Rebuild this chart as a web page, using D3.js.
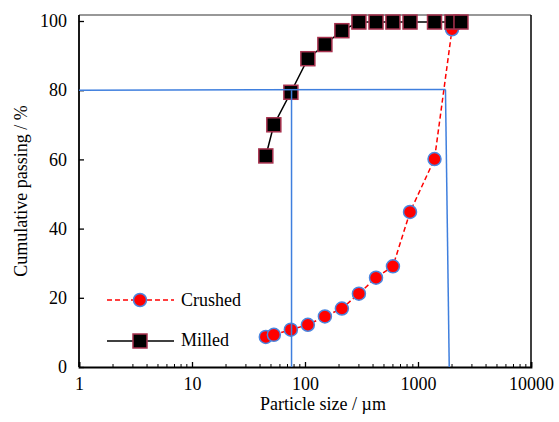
<!DOCTYPE html>
<html>
<head>
<meta charset="utf-8">
<script src="https://cdn.jsdelivr.net/npm/d3@7"></script>
<style>
  body { margin: 0; background: #fff; }
  #chart text { font-family: "Liberation Serif", "Times New Roman", serif !important; }
</style>
</head>
<body>
<svg id="chart" width="559" height="422" font-family="Liberation Serif"></svg>
<script>
// sieve sizes (um) and cumulative passing (%)
const crushedSizes = [45, 53, 75, 106, 150, 212, 300, 425, 600, 850, 1400, 2000];
const crushedPassing = [8.7, 9.3, 10.8, 12.2, 14.6, 16.9, 21.2, 25.8, 29.1, 44.8, 60.1, 97.6];

const milledSizes = [45, 53, 75, 106, 150, 212, 300, 425, 600, 850, 1400, 2000, 2400];
const milledPassing = [61, 70, 79.4, 89.1, 93.2, 97.2, 99.7, 99.7, 99.7, 99.7, 99.7, 99.7, 99.7];

// D80 guide lines
const guideH = [[1, 80], [1750, 80.2]];
const guideMilled = [[76, 80], [76, 0]];
const guideCrushed = [[1750, 80.2], [1890, 0]];

const xMajor = [1, 10, 100, 1000, 10000];
const yTicks = [0, 20, 40, 60, 80, 100];

const FONT = "Liberation Serif";

const svg = d3.select("#chart");

const x = d3.scaleLog().domain([1, 10000]).range([79, 531]);
const y = d3.scaleLinear().domain([0, 100]).range([367, 21]);
const frameTop = 15;

// minor ticks for log axis
let xMinor = [];
for (let d = 1; d < 10000; d *= 10) {
  for (let k = 2; k <= 9; k++) xMinor.push(d * k);
}

// frame
svg.append("line").attr("x1", 79).attr("x2", 531).attr("y1", frameTop).attr("y2", frameTop)
   .style("stroke", "#333").style("stroke-width", "1.2px");
svg.append("line").attr("x1", 531).attr("x2", 531).attr("y1", frameTop).attr("y2", 367)
   .style("stroke", "#000").style("stroke-width", "1.5px");

// bottom axis, ticks inward
let xAxis = svg.append("g").attr("transform", "translate(0,367)")
  .call(d3.axisBottom(x).tickValues(xMajor).tickSize(-5).tickPadding(10)
    .tickFormat(d3.format("d")));
xAxis.attr("font-family", FONT).attr("font-size", 18);
xAxis.selectAll("text").attr("font-family", FONT).attr("dy", "0.71em");
xAxis.select(".domain").style("stroke-width", "1.8px");
xAxis.selectAll(".tick line").style("stroke-width", "1.3px");

svg.append("g").selectAll("line").data(xMinor).join("line")
   .attr("x1", d => x(d)).attr("x2", d => x(d))
   .attr("y1", 367).attr("y2", 364)
   .style("stroke", "#000").style("stroke-width", "1px");

// left axis, ticks inward
let yAxis = svg.append("g").attr("transform", "translate(79,0)")
  .call(d3.axisLeft(y).tickValues(yTicks).tickSize(-5).tickPadding(12));
yAxis.attr("font-family", FONT).attr("font-size", 18);
yAxis.selectAll("text").attr("font-family", FONT);
yAxis.select(".domain").attr("d", `M0,${frameTop}V367`).style("stroke-width", "1.8px");
yAxis.selectAll(".tick line").style("stroke-width", "1.3px");

// axis titles
svg.append("text").attr("x", 323).attr("y", 410)
   .attr("text-anchor", "middle").attr("font-family", FONT).attr("font-size", 18)
   .text("Particle size / µm");
svg.append("text").attr("transform", "translate(27,191) rotate(-90)")
   .attr("text-anchor", "middle").attr("font-family", FONT).attr("font-size", 18)
   .text("Cumulative passing / %");

const line = d3.line().x(d => x(d[0])).y(d => y(d[1]));

// crushed series
const crushed = d3.zip(crushedSizes, crushedPassing);
svg.append("path").datum(crushed).attr("d", line)
   .style("fill", "none").style("stroke", "#ff0000")
   .style("stroke-width", "1.5px").style("stroke-dasharray", "5 3");
svg.append("g").selectAll("circle").data(crushed).join("circle")
   .attr("cx", d => x(d[0])).attr("cy", d => y(d[1])).attr("r", 6.5)
   .style("fill", "#ff0000").style("stroke", "#4a86e0").style("stroke-width", "1.5px");

// milled series
const milled = d3.zip(milledSizes, milledPassing);
svg.append("path").datum(milled).attr("d", line)
   .style("fill", "none").style("stroke", "#000").style("stroke-width", "1.5px");
svg.append("g").selectAll("rect").data(milled).join("rect")
   .attr("x", d => x(d[0]) - 7).attr("y", d => y(d[1]) - 7)
   .attr("width", 14).attr("height", 14)
   .style("fill", "#000").style("stroke", "#a8324f").style("stroke-width", "1.5px");

// guide lines
[guideH, guideMilled, guideCrushed].forEach(g => {
  svg.append("path").datum(g).attr("d", line)
     .style("fill", "none").style("stroke", "#3f7fde").style("stroke-width", "1.5px");
});

// legend
let lg = svg.append("g").attr("font-family", FONT).attr("font-size", 18);
lg.append("line").attr("x1", 107).attr("x2", 174).attr("y1", 300).attr("y2", 300)
  .style("stroke", "#ff0000").style("stroke-width", "1.5px").style("stroke-dasharray", "5 3");
lg.append("circle").attr("cx", 140).attr("cy", 300).attr("r", 6.5)
  .style("fill", "#ff0000").style("stroke", "#4a86e0").style("stroke-width", "1.5px");
lg.append("text").attr("x", 181).attr("y", 306).text("Crushed");

lg.append("line").attr("x1", 107).attr("x2", 174).attr("y1", 341).attr("y2", 341)
  .style("stroke", "#000").style("stroke-width", "1.5px");
lg.append("rect").attr("x", 133).attr("y", 334).attr("width", 14).attr("height", 14)
  .style("fill", "#000").style("stroke", "#a8324f").style("stroke-width", "1.5px");
lg.append("text").attr("x", 181).attr("y", 346).text("Milled");
</script>
</body>
</html>
